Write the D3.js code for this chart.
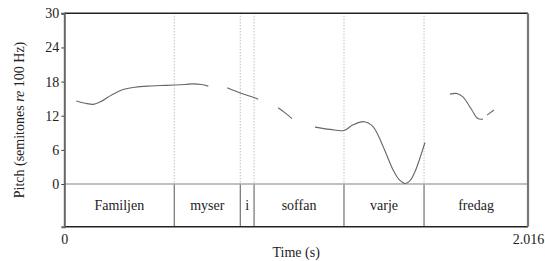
<!DOCTYPE html>
<html>
<head>
<meta charset="utf-8">
<script src="https://cdn.jsdelivr.net/npm/d3@7"></script>
<style>
  body { margin: 0; background: #fff; }
</style>
</head>
<body>
<div id="chart"></div>
<script>
// word segments (start, end in seconds)
const words = ["Familjen", "myser", "i", "soffan", "varje", "fredag"];
const wordBounds = [0, 0.478, 0.765, 0.825, 1.216, 1.564, 2.016];

// pitch contours: [time (s), semitones re 100 Hz]
const contour1 = [[0.052, 14.6], [0.091, 14.2], [0.126, 14.0], [0.160, 14.5], [0.191, 15.3], [0.256, 16.6], [0.308, 17.0], [0.361, 17.2], [0.417, 17.3], [0.478, 17.4], [0.526, 17.5], [0.560, 17.6], [0.595, 17.5], [0.626, 17.2]];
const contour2 = [[0.708, 16.9], [0.765, 16.0], [0.825, 15.2], [0.843, 14.9]];
const contour3 = [[0.930, 13.4], [0.960, 12.5], [0.990, 11.5]];
const contour4 = [[1.090, 10.0], [1.156, 9.6], [1.216, 9.4], [1.255, 10.4], [1.303, 10.95], [1.342, 10.1], [1.386, 6.6], [1.429, 2.5], [1.455, 0.8], [1.481, 0.1], [1.505, 0.7], [1.525, 2.2], [1.568, 7.3]];
const contour5 = [[1.677, 15.8], [1.707, 15.9], [1.733, 15.3], [1.772, 13.0], [1.798, 11.5], [1.820, 11.4]];
const contour6 = [[1.838, 12.1], [1.868, 13.0]];
const contours = [contour1, contour2, contour3, contour4, contour5, contour6];

const yTicks = [0, 6, 12, 18, 24, 30];
const xTicks = [0, 2.016];

const FONT = "'Liberation Serif', 'Times New Roman', Times, serif";
const width = 545, height = 261;
const margin = {top: 13.3, right: 17, bottom: 34.3, left: 64.3};
const innerW = width - margin.left - margin.right;
const innerH = height - margin.top - margin.bottom;

const svg = d3.select("#chart").append("svg")
    .attr("width", width)
    .attr("height", height);

const g = svg.append("g")
    .attr("transform", `translate(${margin.left},${margin.top})`);

const x = d3.scaleLinear().domain([0, 2.016]).range([0, innerW]);
const y = d3.scaleLinear().domain([-7.5, 30]).range([innerH, 0]);

// word boundary lines: dotted above zero, solid below
const inner = wordBounds.slice(1, -1);
g.selectAll(".bdot").data(inner).enter().append("line")
    .attr("x1", d => x(d)).attr("x2", d => x(d))
    .attr("y1", y(30)).attr("y2", y(0))
    .attr("stroke", "#888").attr("stroke-width", 0.8)
    .attr("stroke-dasharray", "1,2");
g.selectAll(".bsolid").data(inner).enter().append("line")
    .attr("x1", d => x(d)).attr("x2", d => x(d))
    .attr("y1", y(0)).attr("y2", y(-7.5))
    .attr("stroke", "#555").attr("stroke-width", 1);

// zero line
g.append("line")
    .attr("x1", 0).attr("x2", innerW)
    .attr("y1", y(0)).attr("y2", y(0))
    .attr("stroke", "#aaa").attr("stroke-width", 1.6);

// word labels
g.selectAll(".word").data(words).enter().append("text")
    .attr("x", (d, i) => (x(wordBounds[i]) + x(wordBounds[i + 1])) / 2)
    .attr("y", (y(0) + y(-7.5)) / 2 + 4.5)
    .attr("text-anchor", "middle")
    .style("font-family", FONT)
    .style("font-size", "14px")
    .attr("fill", "#222")
    .text(d => d);

// pitch contours
const line = d3.line()
    .x(d => x(d[0]))
    .y(d => y(d[1]))
    .curve(d3.curveCatmullRom);
g.selectAll(".contour").data(contours).enter().append("path")
    .attr("d", line)
    .attr("fill", "none")
    .attr("stroke", "#666")
    .attr("stroke-width", 1.1);

// frame
g.append("line").attr("x1", 0).attr("x2", innerW).attr("y1", 0).attr("y2", 0)
    .attr("stroke", "#222").attr("stroke-width", 1.4);
g.append("line").attr("x1", 0).attr("x2", innerW).attr("y1", innerH).attr("y2", innerH)
    .attr("stroke", "#222").attr("stroke-width", 1.4);
g.append("line").attr("x1", innerW).attr("x2", innerW).attr("y1", 0).attr("y2", innerH)
    .attr("stroke", "#777").attr("stroke-width", 2.2);

// y axis
const yAxis = g.append("g")
    .call(d3.axisLeft(y).tickValues(yTicks).tickSize(3).tickPadding(2).tickFormat(d3.format("d")));
yAxis.select(".domain").attr("stroke", "#666").attr("stroke-width", 2);
yAxis.selectAll(".tick line").attr("stroke", "#444");
yAxis.selectAll("text").style("font-size", "14px").attr("fill", "#222")
    .style("font-family", FONT);

// x axis labels
const xAxis = g.append("g")
    .attr("transform", `translate(0,${innerH})`)
    .call(d3.axisBottom(x).tickValues(xTicks).tickSize(0).tickPadding(7)
        .tickFormat(d => d === 0 ? "0" : d3.format(".3f")(d)));
xAxis.select(".domain").remove();
xAxis.selectAll("text").style("font-size", "14px").attr("fill", "#222")
    .style("font-family", FONT);

// axis titles
svg.append("text")
    .attr("x", margin.left + innerW / 2)
    .attr("y", 257)
    .attr("text-anchor", "middle")
    .style("font-family", FONT)
    .style("font-size", "14px")
    .attr("fill", "#222")
    .text("Time (s)");

const yt = svg.append("text")
    .attr("transform", `translate(24,${margin.top + innerH / 2}) rotate(-90)`)
    .attr("text-anchor", "middle")
    .style("font-family", FONT)
    .style("font-size", "14px")
    .attr("fill", "#222");
yt.append("tspan").text("Pitch (semitones ");
yt.append("tspan").attr("font-style", "italic").text("re");
yt.append("tspan").text(" 100 Hz)");
</script>
</body>
</html>
